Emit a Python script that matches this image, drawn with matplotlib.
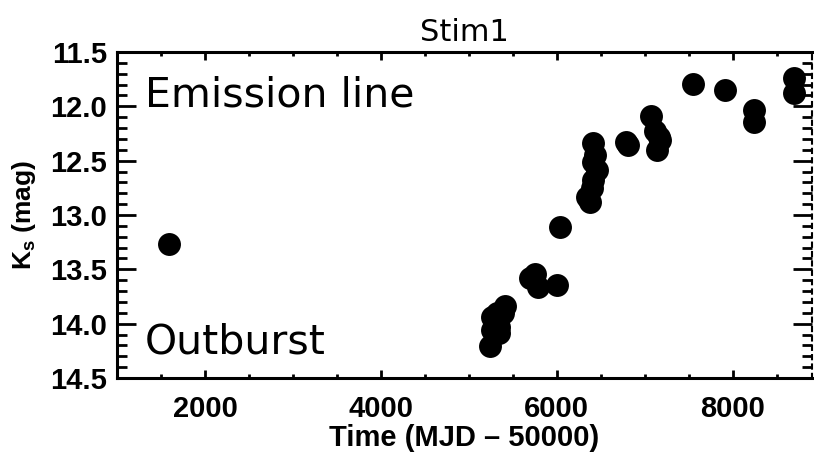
import numpy as np
import matplotlib
matplotlib.use("Agg")
import matplotlib.pyplot as plt
from matplotlib.ticker import MultipleLocator

# Ks light curve of Stim1
mjd = [1590,
       5240, 5260, 5260, 5320, 5340, 5340, 5390, 5410,
       5700, 5750, 5790, 6000,
       6040,
       6340, 6378, 6397, 6416, 6454, 6416, 6435, 6416,
       6790, 6810,
       7068, 7117, 7174, 7136, 7160,
       7553, 7913, 8236, 8236, 8691, 8691]
ks = [13.27,
      14.21, 14.06, 13.94, 13.90, 14.03, 14.09, 13.90, 13.84,
      13.58, 13.54, 13.66, 13.64,
      13.11,
      12.83, 12.88, 12.75, 12.68, 12.59, 12.51, 12.45, 12.34,
      12.33, 12.36,
      12.09, 12.23, 12.31, 12.40, 12.28,
      11.79, 11.85, 12.03, 12.14, 11.74, 11.88]

plt.rcParams['font.family'] = ['Liberation Sans', 'DejaVu Sans']
plt.rcParams['mathtext.fontset'] = 'custom'
plt.rcParams['mathtext.bf'] = 'Liberation Sans:bold'
plt.rcParams['mathtext.rm'] = 'Liberation Sans:bold'

fig = plt.figure(figsize=(8.14, 4.59), dpi=100)
ax = fig.add_axes([117 / 814, 1 - 378 / 459, (812 - 117) / 814, (378 - 52) / 459])

ax.plot(mjd, ks, 'o', color='black', markersize=16.5, markeredgewidth=0)

ax.set_xlim(1000, 8900)
ax.set_ylim(14.5, 11.5)

ax.xaxis.set_major_locator(MultipleLocator(2000))
ax.xaxis.set_minor_locator(MultipleLocator(500))
ax.yaxis.set_major_locator(MultipleLocator(0.5))
ax.yaxis.set_minor_locator(MultipleLocator(0.1))
ax.yaxis.set_major_formatter(matplotlib.ticker.FormatStrFormatter('%.1f'))

ax.tick_params(axis='x', which='major', direction='in', length=6, width=2,
               top=True, labelsize=21, pad=12)
ax.tick_params(axis='x', which='minor', direction='in', length=3, width=2, top=True)
ax.tick_params(axis='y', which='major', direction='in', length=14, width=2,
               right=True, labelsize=21, pad=7)
ax.tick_params(axis='y', which='minor', direction='in', length=7, width=2, right=True)
for lab in ax.get_xticklabels() + ax.get_yticklabels():
    lab.set_fontweight('bold')

for side in ['left', 'bottom', 'top']:
    ax.spines[side].set_linewidth(2.2)
ax.spines['right'].set_linewidth(1.5)
ax.spines['right'].set_linestyle((0, (2, 2.5)))

ax.set_title('Stim1', fontsize=22, family='DejaVu Sans', pad=8)
ax.set_xlabel('Time (MJD – 50000)', fontsize=21, fontweight='bold', labelpad=1)
ax.set_ylabel(r'K$_\mathbf{s}$ (mag)', fontsize=19, fontweight='bold', labelpad=9)

ax.text(0.04, 12.0, 'Emission line', fontsize=29.5, family='DejaVu Sans',
        transform=ax.get_yaxis_transform(), va='baseline')
ax.text(0.04, 14.27, 'Outburst', fontsize=29.5, family='DejaVu Sans',
        transform=ax.get_yaxis_transform(), va='baseline')

fig.savefig('out.png', dpi=100)
